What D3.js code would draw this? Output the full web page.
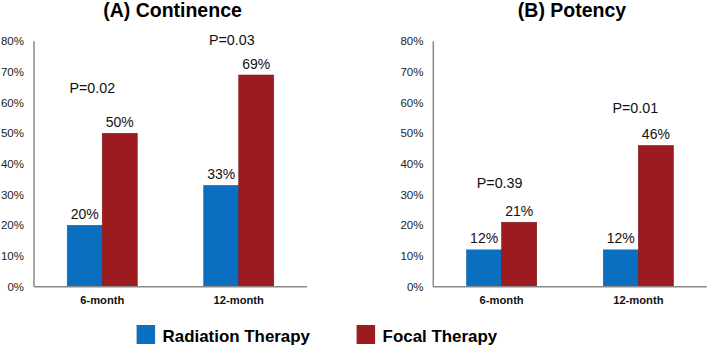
<!DOCTYPE html>
<html>
<head>
<meta charset="utf-8">
<script src="https://cdn.jsdelivr.net/npm/d3@7"></script>
<style>
  html, body { margin: 0; padding: 0; background: #fff; }
  svg { display: block; font-family: "Liberation Sans", Arial, sans-serif; }
</style>
</head>
<body>
<svg id="chart" width="709" height="346"></svg>
<script>
// ---- data ----
const categories = ["6-month", "12-month"];
const seriesNames = ["Radiation Therapy", "Focal Therapy"];
const continenceRadiation = [0.20, 0.33];
const continenceFocal = [0.50, 0.69];
const potencyRadiation = [0.12, 0.12];
const potencyFocal = [0.21, 0.46];
const continenceP = ["P=0.02", "P=0.03"];
const potencyP = ["P=0.39", "P=0.01"];
const continencePLevel = [0.63, 0.788];
const potencyPLevel = [0.321, 0.565];
const yTicks = [0, 0.1, 0.2, 0.3, 0.4, 0.5, 0.6, 0.7, 0.8];
const panelTitles = ["(A) Continence", "(B) Potency"];

// ---- layout / style ----
const colors = ["#0A6EC1", "#9B1B1F"];
const strokes = ["#0A5FA8", "#7E1518"];
const pDx = [[-10, -7], [-2, -3]];
const svg = d3.select("#chart");

const y = d3.scaleLinear().domain([0, 0.8]).range([286.7, 41.3]);

const panels = [
  { title: panelTitles[0], x0: 34, x1: 307, rad: continenceRadiation, foc: continenceFocal, p: continenceP, pl: continencePLevel, tickX: 24, dx: pDx[0] },
  { title: panelTitles[1], x0: 433.3, x1: 706.7, rad: potencyRadiation, foc: potencyFocal, p: potencyP, pl: potencyPLevel, tickX: 423.5, dx: pDx[1] }
];

panels.forEach(pn => {
  const g = svg.append("g");
  const x = d3.scaleBand().domain(categories).range([pn.x0, pn.x1]).padding(0);
  const xs = d3.scaleBand().domain(seriesNames).range([0, x.bandwidth()]).paddingInner(0).paddingOuter(0.95);

  // title
  g.append("text")
    .attr("x", (pn.x0 + pn.x1) / 2 + 2)
    .attr("y", 17)
    .attr("text-anchor", "middle")
    .attr("font-weight", "bold")
    .attr("font-size", 19.5)
    .attr("fill", "#000")
    .text(pn.title);

  // y tick labels
  g.selectAll("text.ytick").data(yTicks).join("text")
    .attr("class", "ytick")
    .attr("x", pn.tickX)
    .attr("y", d => y(d))
    .attr("dy", "0.36em")
    .attr("text-anchor", "end")
    .attr("font-size", 11.5)
    .attr("fill", "#222")
    .text(d => d3.format(".0%")(d));

  // bars
  const rows = categories.map((c, i) => ({ c, vals: [pn.rad[i], pn.foc[i]] }));
  const grp = g.selectAll("g.grp").data(rows).join("g")
    .attr("class", "grp")
    .attr("transform", d => `translate(${x(d.c)},0)`);
  grp.selectAll("rect").data(d => d.vals.map((v, k) => ({ v, k }))).join("rect")
    .attr("x", d => xs(seriesNames[d.k]))
    .attr("y", d => y(d.v))
    .attr("width", xs.bandwidth())
    .attr("height", d => y(0) - y(d.v))
    .attr("fill", d => colors[d.k])
    .attr("stroke", d => strokes[d.k])
    .attr("stroke-width", 0.6);
  grp.selectAll("text.val").data(d => d.vals.map((v, k) => ({ v, k }))).join("text")
    .attr("class", "val")
    .attr("x", d => xs(seriesNames[d.k]) + xs.bandwidth() / 2)
    .attr("y", d => y(d.v) - 6.5)
    .attr("text-anchor", "middle")
    .attr("font-size", 14)
    .attr("fill", "#111")
    .text(d => d3.format(".0%")(d.v));

  // p labels
  g.selectAll("text.p").data(categories).join("text")
    .attr("class", "p")
    .attr("x", (d, i) => x(d) + x.bandwidth() / 2 + pn.dx[i])
    .attr("y", (d, i) => y(pn.pl[i]))
    .attr("text-anchor", "middle")
    .attr("font-size", 14.3)
    .attr("fill", "#111")
    .text((d, i) => pn.p[i]);

  // axes lines
  g.append("line")
    .attr("x1", pn.x0).attr("x2", pn.x0)
    .attr("y1", y(0.8)).attr("y2", y(0))
    .attr("stroke", "#8a8a8a").attr("stroke-width", 1.5);
  g.append("line")
    .attr("x1", pn.x0).attr("x2", pn.x1)
    .attr("y1", y(0)).attr("y2", y(0))
    .attr("stroke", "#8a8a8a").attr("stroke-width", 1.5);

  // category labels
  g.selectAll("text.cat").data(categories).join("text")
    .attr("class", "cat")
    .attr("x", d => x(d) + x.bandwidth() / 2)
    .attr("y", 304)
    .attr("text-anchor", "middle")
    .attr("font-weight", "bold")
    .attr("font-size", 11.2)
    .attr("fill", "#111")
    .text(d => d);
});

// legend
const legendX = [136.6, 356.6];
const lg = svg.selectAll("g.leg").data(seriesNames).join("g")
  .attr("class", "leg")
  .attr("transform", (d, i) => `translate(${legendX[i]},325)`);
lg.append("rect")
  .attr("width", 18.5).attr("height", 19)
  .attr("fill", (d, i) => colors[i]);
lg.append("text")
  .attr("x", 26)
  .attr("y", 16.5)
  .attr("font-weight", "bold")
  .attr("font-size", 16.9)
  .attr("fill", "#000")
  .text(d => d);
</script>
</body>
</html>
